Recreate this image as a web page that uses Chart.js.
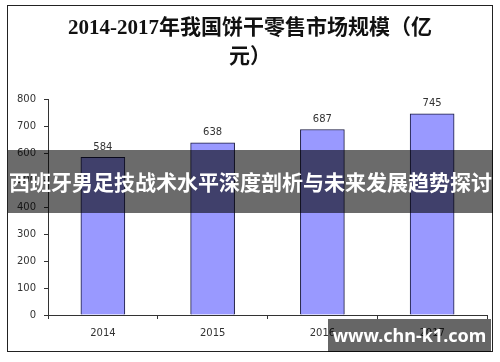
<!DOCTYPE html>
<html>
<head>
<meta charset="utf-8">
<script src="https://cdn.jsdelivr.net/npm/chart.js@4"></script>
<style>
    html, body { margin: 0; padding: 0; background: #fff; }
    #cadre { position: relative; width: 500px; height: 362px; overflow: hidden; }
    #titre {
        position: absolute; left: 0; top: 13px; width: 500px; text-align: center;
        font: bold 21px/29px "Liberation Serif", "Noto Sans CJK SC", serif; color: #111;
    }
    #bandeau {
        position: absolute; left: 8px; top: 150px; width: 485px; height: 63px;
        background: rgba(0,0,0,0.58); color: #fff; text-align: center;
        font: bold 21px/63px "Noto Sans CJK SC", sans-serif; white-space: nowrap;
    }
    #filigrane {
        position: absolute; left: 328px; top: 319px; width: 163px; height: 33px;
        background: rgba(0,0,0,0.6); color: #fff; text-align: center;
        font: bold 18px/33px "Noto Sans", sans-serif;
    }
</style>
</head>
<body>
<div id="cadre">
    <canvas id="graphique" width="500" height="362"></canvas>
    <div id="titre">2014-2017年我国饼干零售市场规模（亿<br>元）</div>
    <div id="bandeau">西班牙男足技战术水平深度剖析与未来发展趋势探讨</div>
    <div id="filigrane">www.chn-k1.com</div>
</div>
<script>
const annees  = ['2014', '2015', '2016', '2017'];
const valeurs = [584, 638, 687, 745];
const axeMin  = 0;
const axeMax  = 800;
const axePas  = 100;

// Cadre noir + étiquettes de valeur au-dessus des barres
const pluginDecor = {
    id: 'decor',
    beforeDraw(chart) {
        const c = chart.ctx;
        c.save();
        c.strokeStyle = '#222';
        c.lineWidth = 1;
        c.strokeRect(7.5, 5.5, 485, 346);
        c.restore();
    },
    afterDatasetsDraw(chart) {
        const c = chart.ctx;
        const meta = chart.getDatasetMeta(0);
        c.save();
        c.font = '10px "DejaVu Sans", sans-serif';
        c.fillStyle = '#333';
        c.textAlign = 'center';
        c.textBaseline = 'bottom';
        meta.data.forEach((barre, i) => {
            c.fillText(String(valeurs[i]), barre.x, barre.y - 5);
        });
        c.restore();
    }
};

new Chart(document.getElementById('graphique'), {
    type: 'bar',
    data: {
        labels: annees,
        datasets: [{
            data: valeurs,
            backgroundColor: '#9999ff',
            borderColor: '#1a1a40',
            borderWidth: 1,
            barThickness: 44,
        }]
    },
    options: {
        responsive: false,
        animation: false,
        layout: { padding: { top: 99, right: 13, left: 0, bottom: 0 } },
        plugins: { legend: { display: false }, title: { display: false }, tooltip: { enabled: false } },
        scales: {
            x: {
                offset: true,
                grid: { offset: true, drawOnChartArea: false, drawTicks: true, tickLength: 4, color: '#333' },
                border: { color: '#333', width: 1 },
                ticks: { color: '#333', font: { family: 'DejaVu Sans', size: 10 }, padding: 8, maxRotation: 0 },
                afterFit: s => { s.height = 47; }
            },
            y: {
                min: axeMin,
                max: axeMax,
                grid: { drawOnChartArea: false, drawTicks: true, tickLength: 4, color: '#333' },
                border: { color: '#333', width: 1 },
                ticks: { stepSize: axePas, color: '#333', font: { family: 'DejaVu Sans', size: 10 }, padding: 8 },
                afterFit: s => { s.width = 48; }
            }
        }
    },
    plugins: [pluginDecor]
});
</script>
</body>
</html>
